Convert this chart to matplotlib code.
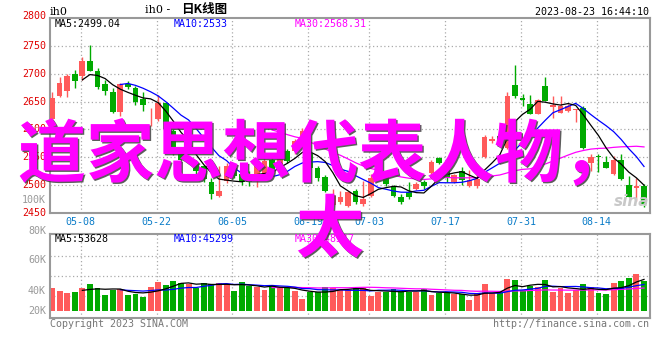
import matplotlib
matplotlib.use('Agg')
import matplotlib.pyplot as plt
import numpy as np
import pandas as pd
from matplotlib import patheffects as pe
from matplotlib.transforms import blended_transform_factory

# ---------------- data ----------------
tick_labels = ['05-08', '05-22', '06-05', '06-19', '07-03', '07-17', '07-31', '08-14']
tick_index = [4, 14, 24, 34, 42, 52, 62, 72]

opens = [
    2619.6, 2660.7, 2668.5, 2700.0, 2696.4, 2722.0, 2704.2, 2682.1, 2666.7, 2630.9,
    2682.0, 2674.4, 2655.4, 2621.5, 2619.6, 2647.7, 2598.0, 2558.0, 2543.0, 2540.5,
    2534.5, 2504.8, 2481.0, 2507.7, 2530.0, 2519.6, 2516.7, 2513.7, 2520.0, 2545.0,
    2528.6, 2561.0, 2561.0, 2584.0, 2558.0, 2531.0, 2514.0, 2465.0, 2469.0, 2463.0,
    2490.0, 2466.0, 2481.0, 2512.0, 2516.7, 2497.0, 2478.0, 2487.0, 2493.0, 2506.0,
    2521.0, 2548.2, 2530.0, 2506.0, 2526.0, 2498.0, 2499.0, 2550.0, 2580.0, 2589.0,
    2567.3, 2679.0, 2656.5, 2645.8, 2628.0, 2678.6, 2640.0, 2629.8, 2632.7, 2635.0,
    2638.7, 2540.5, 2553.0, 2541.0, 2519.6, 2544.6, 2500.6, 2494.0, 2498.8]
closes = [
    2656.5, 2683.3, 2696.4, 2686.3, 2722.0, 2704.2, 2675.6, 2668.5, 2630.9, 2682.1,
    2675.6, 2649.4, 2644.6, 2622.6, 2647.6, 2600.0, 2558.0, 2546.0, 2544.0, 2525.6,
    2510.7, 2484.0, 2490.0, 2534.5, 2516.7, 2504.8, 2504.8, 2534.5, 2543.5, 2527.6,
    2546.4, 2543.5, 2579.0, 2598.0, 2531.5, 2513.0, 2490.0, 2480.0, 2479.0, 2487.0,
    2469.0, 2475.0, 2513.7, 2518.0, 2501.8, 2481.0, 2469.0, 2479.0, 2502.0, 2499.0,
    2541.7, 2539.3, 2512.0, 2518.0, 2510.0, 2510.0, 2510.7, 2587.0, 2583.0, 2581.0,
    2659.6, 2659.5, 2652.4, 2628.0, 2652.4, 2651.8, 2644.6, 2641.7, 2641.7, 2635.8,
    2567.3, 2550.6, 2550.0, 2531.5, 2545.2, 2510.7, 2479.2, 2498.8, 2466.0]
highs = [
    2667.3, 2693.5, 2699.4, 2707.0, 2730.4, 2751.8, 2710.0, 2689.3, 2674.4, 2684.0,
    2686.3, 2678.6, 2667.3, 2638.7, 2662.5, 2649.4, 2601.0, 2562.0, 2552.0, 2545.0,
    2537.0, 2513.7, 2534.5, 2540.0, 2533.0, 2522.0, 2525.0, 2546.0, 2550.0, 2552.0,
    2555.4, 2565.0, 2583.0, 2603.0, 2567.0, 2535.0, 2518.0, 2493.0, 2490.0, 2489.0,
    2493.0, 2507.7, 2519.6, 2520.8, 2519.6, 2500.6, 2484.0, 2504.8, 2505.0, 2509.5,
    2546.0, 2550.6, 2534.0, 2520.0, 2532.0, 2528.0, 2524.0, 2590.0, 2588.0, 2600.0,
    2668.0, 2716.0, 2663.7, 2662.5, 2655.4, 2693.5, 2659.6, 2659.5, 2645.8, 2637.0,
    2641.7, 2556.5, 2556.5, 2553.0, 2552.4, 2555.4, 2516.7, 2513.7, 2501.8]
lows = [
    2616.0, 2657.7, 2657.7, 2674.4, 2689.3, 2704.0, 2673.2, 2662.5, 2630.0, 2623.8,
    2673.0, 2644.6, 2632.7, 2606.0, 2616.0, 2598.0, 2555.0, 2540.0, 2538.0, 2519.6,
    2505.0, 2475.0, 2479.0, 2503.0, 2512.0, 2500.0, 2498.0, 2496.0, 2516.0, 2524.0,
    2525.6, 2540.0, 2556.0, 2580.0, 2528.6, 2508.0, 2488.0, 2462.0, 2466.0, 2461.0,
    2466.0, 2463.0, 2478.0, 2509.5, 2499.0, 2479.0, 2466.0, 2475.0, 2491.0, 2493.0,
    2518.0, 2537.5, 2506.0, 2503.0, 2501.0, 2496.0, 2495.0, 2548.0, 2576.0, 2573.0,
    2565.0, 2656.5, 2641.7, 2626.8, 2627.0, 2650.6, 2621.0, 2629.0, 2632.0, 2613.0,
    2564.3, 2526.0, 2524.4, 2531.0, 2518.4, 2510.0, 2478.0, 2472.0, 2460.0]
volumes_k = [
    42.3, 40.0, 38.0, 39.0, 42.3, 47.0, 43.0, 36.0, 40.3, 42.0,
    36.0, 36.7, 34.0, 44.0, 48.7, 46.0, 50.0, 48.0, 46.3, 42.3,
    48.0, 46.7, 48.0, 47.0, 40.0, 48.7, 44.7, 44.0, 40.7, 44.7,
    43.0, 43.3, 40.0, 32.0, 39.0, 39.0, 43.3, 43.0, 40.7, 40.7,
    43.0, 42.3, 35.0, 39.0, 39.0, 41.3, 40.0, 39.0, 39.0, 41.7,
    35.7, 37.3, 37.3, 36.3, 36.3, 30.7, 37.3, 46.7, 37.3, 39.7,
    51.7, 50.7, 40.7, 44.7, 44.0, 50.7, 39.0, 42.3, 38.0, 40.7,
    46.7, 43.3, 38.0, 36.7, 47.7, 49.7, 52.7, 56.7, 49.7]

price_ticks = [2450, 2500, 2550, 2600, 2650, 2700, 2750, 2800]
vol_labels = ['20K', '40K', '60K', '80K']
vol_label_pos = [20, 40, 70.7, 100]

legend_main = ['MA5:2499.04', 'MA10:2533', 'MA30:2568.31']
legend_vol = ['MA5:53628', 'MA10:45299', 'MA30:48547']
overlay_line1 = '道家思想代表人物，'
overlay_line2 = '太'

# ---------------- figure ----------------
W, H = 660, 360
fig = plt.figure(figsize=(W / 100, H / 100), dpi=100)
fig.patch.set_facecolor('white')


def box(l, t, r, b):
    return [l / W, 1 - b / H, (r - l) / W, (b - t) / H]


def px(x, y):
    return x / W, 1 - y / H


UP = '#ff5a5a'
DN = '#00aa00'
GRID = '#aaaaaa'
SPINE = '#999999'
MONO = 'DejaVu Sans Mono'

o = np.array(opens)
c = np.array(closes)
hi = np.array(highs)
lo = np.array(lows)
vol = np.array(volumes_k)
n = len(o)
x = np.arange(n)
cols = np.where(c >= o, UP, DN)

ma = {k: pd.Series(c).rolling(k).mean() for k in (5, 10, 30)}
vma = {k: pd.Series(vol).rolling(k).mean() for k in (5, 10, 30)}
ma_cols = {5: 'black', 10: '#0000ff', 30: '#ff00ff'}

xlim = (-0.26, 78.79)
grid_x = np.array(tick_index) - 0.22

# ---- main price panel ----
ax = fig.add_axes(box(50, 18, 650, 213))
ax.set_xlim(*xlim)
ax.set_ylim(2450, 2800)
for v in price_ticks[1:-1]:
    ax.axhline(v, color=GRID, lw=0.9, ls=(0, (1, 2)), zorder=0)
for gx in grid_x:
    ax.axvline(gx, color=GRID, lw=0.9, ls=(0, (1, 2)), zorder=0)

ax.vlines(x, lo, hi, colors=cols, lw=1.0, zorder=2)
body_h = np.maximum(np.abs(c - o), 1.2)
ax.bar(x, body_h, bottom=np.minimum(o, c), width=0.75, color=cols, linewidth=0, zorder=3)
for k in (30, 10, 5):
    ax.plot(x, ma[k], color=ma_cols[k], lw=0.9, zorder=4)

ax.set_xticks([])
ax.set_yticks([])
for s in ax.spines.values():
    s.set_color(SPINE)
    s.set_linewidth(1.5)

tr = blended_transform_factory(ax.transAxes, ax.transData)
for v in price_ticks:
    ax.text(-0.0067, v + (4 if v == 2800 else 0), str(v), transform=tr, ha='right', va='center',
            color='#e00000', fontsize=7.2, family=MONO, clip_on=False)
ax.text(-0.0067, 2473, '100K', transform=tr, ha='right', va='center',
        color='#999999', fontsize=7.2, family=MONO, clip_on=False)

for lab, xp, col in zip(legend_main, (55, 174, 295), ('black', '#0000ff', '#ff00ff')):
    fig.text(*px(xp, 24), lab, ha='left', va='center', fontsize=7.2, family=MONO, color=col)

# x tick labels
trx = blended_transform_factory(ax.transData, fig.transFigure)
for gx, lab in zip(grid_x, tick_labels):
    ax.text(gx, 1 - 222 / H, lab, transform=trx, ha='center', va='center',
            color='#0a7cc8', fontsize=7.2, family=MONO, clip_on=False)

# sina watermark
fig.text(*px(632, 202), 'sina', ha='center', va='center', fontsize=11, color='#c8c8c8',
         style='italic', weight='bold')

# ---- volume panel ----
axv = fig.add_axes(box(50, 234.3, 650, 318.3))
axv.set_xlim(*xlim)
axv.set_ylim(12.4, 96.4)
for v in (35, 55, 75):
    axv.axhline(v, color=GRID, lw=0.9, ls=(0, (1, 2)), zorder=0)
for gx in grid_x:
    axv.axvline(gx, color=GRID, lw=0.9, ls=(0, (1, 2)), zorder=0)
axv.bar(x, vol - 20, bottom=20, width=0.78, color=cols, linewidth=0, zorder=2)
for k in (30, 10, 5):
    axv.plot(x, vma[k], color=ma_cols[k], lw=0.9, zorder=3)
axv.set_xticks([])
axv.set_yticks([])
for s in axv.spines.values():
    s.set_color(SPINE)
    s.set_linewidth(1.5)
trv = blended_transform_factory(axv.transAxes, axv.transData)
for lab, v in zip(vol_labels, vol_label_pos):
    axv.text(-0.0067, v, lab, transform=trv, ha='right', va='center', color='#999999',
             fontsize=7.2, family=MONO, clip_on=False)
for lab, xp, col in zip(legend_vol, (55, 174, 295), ('black', '#0000ff', '#ff00ff')):
    fig.text(*px(xp, 239.5), lab, ha='left', va='center', fontsize=7.2, family=MONO, color=col)

# ---- header / footer texts ----
fig.text(*px(50, 12), 'ih0', ha='left', va='center', fontsize=8, family='DejaVu Serif', color='black')
fig.text(*px(170, 10), 'ih0 -', ha='right', va='center', fontsize=8,
         family='DejaVu Serif', color='black')
fig.text(*px(181, 10), '日K线图', ha='left', va='center', fontsize=9,
         family=['Noto Sans CJK SC', 'DejaVu Sans'], color='black', weight='bold')
fig.text(*px(649, 12), '2023-08-23 16:44:10', ha='right', va='center', fontsize=7.2,
         family=MONO, color='black')
fig.text(*px(50, 324), 'Copyright 2023 SINA.COM', ha='left', va='center', fontsize=7.2,
         family=MONO, color='#777777')
fig.text(*px(649, 324), 'http://finance.sina.com.cn', ha='right', va='center', fontsize=7.2,
         family=MONO, color='#777777')

# ---- overlay ----
shadow = [pe.withSimplePatchShadow(offset=(1.0, -1.0), shadow_rgbFace='#404040', alpha=0.85)]
fig.text(*px(18, 157), overlay_line1, ha='left', va='center', fontsize=49,
         family='Noto Sans CJK SC', weight='bold', color='#ff00ff', path_effects=shadow, zorder=10)
fig.text(*px(330, 232), overlay_line2, ha='center', va='center', fontsize=49,
         family='Noto Sans CJK SC', weight='bold', color='#ff00ff', path_effects=shadow, zorder=10)

fig.savefig('out.png', dpi=100, facecolor='white')
